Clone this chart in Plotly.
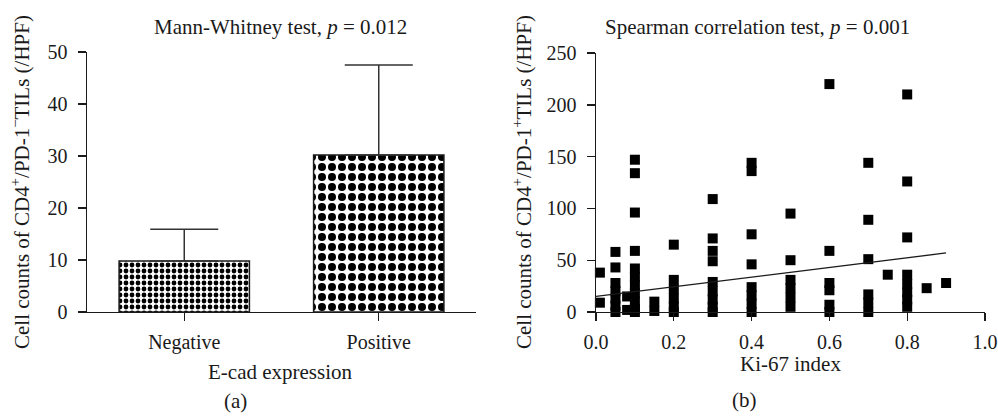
import plotly.graph_objects as go

# ---------------- data ----------------
categories = ["Negative", "Positive"]
bar_means = [9.8, 30.2]
bar_err_upper = [6.1, 17.3]

ki67_index = [
    0.01, 0.01,
    0.05, 0.05, 0.05, 0.05, 0.05, 0.05, 0.05,
    0.08, 0.08,
    0.10, 0.10, 0.10, 0.10, 0.10, 0.10, 0.10, 0.10, 0.10, 0.10, 0.10,
    0.15, 0.15,
    0.20, 0.20, 0.20, 0.20, 0.20, 0.20,
    0.30, 0.30, 0.30, 0.30, 0.30, 0.30, 0.30, 0.30, 0.30,
    0.40, 0.40, 0.40, 0.40, 0.40, 0.40, 0.40, 0.40,
    0.50, 0.50, 0.50, 0.50, 0.50, 0.50,
    0.60, 0.60, 0.60, 0.60, 0.60, 0.60,
    0.70, 0.70, 0.70, 0.70, 0.70, 0.70,
    0.75,
    0.80, 0.80, 0.80, 0.80, 0.80, 0.80, 0.80, 0.80,
    0.85,
    0.90,
]
cell_counts = [
    38, 9,
    58, 43, 28, 20, 13, 6, 0,
    15, 2,
    147, 134, 96, 59, 42, 34, 26, 18, 10, 3, 0,
    10, 1,
    65, 31, 22, 13, 5, 0,
    109, 71, 59, 49, 29, 20, 12, 5, 0,
    144, 136, 75, 46, 24, 16, 8, 0,
    95, 50, 31, 23, 14, 5,
    220, 59, 28, 21, 7, 0,
    144, 89, 51, 17, 9, 0,
    36,
    210, 126, 72, 36, 27, 19, 12, 5,
    23,
    28,
]
trend_x = [0.0, 0.9]
trend_y = [15, 57]

left_y_ticks = [0, 10, 20, 30, 40, 50]
right_y_ticks = [0, 50, 100, 150, 200, 250]
right_x_ticks = [0.0, 0.2, 0.4, 0.6, 0.8, 1.0]
right_x_ticklabels = ["0.0", "0.2", "0.4", "0.6", "0.8", "1.0"]

# ---------------- figure ----------------
W, H = 998, 419
FONT = "Liberation Serif"
FS = 20      # tick labels
FT = 21      # titles
INK = "#1a1a1a"

def px_x(x):
    return x / W

def px_y(y):
    return 1 - y / H

fig = go.Figure()

fig.add_trace(go.Bar(
    x=categories, y=bar_means, width=0.67,
    xaxis="x", yaxis="y",
    marker=dict(
        color="white",
        line=dict(color=INK, width=1.5),
        pattern=dict(shape=".", fgcolor="black", bgcolor="white",
                     size=[6, 10], solidity=0.5, fillmode="replace"),
    ),
    error_y=dict(type="data", symmetric=False, array=bar_err_upper,
                 arrayminus=[0, 0], color="#333333", thickness=1.5, width=34),
    showlegend=False,
))

fig.add_trace(go.Scatter(
    x=ki67_index, y=cell_counts, mode="markers",
    xaxis="x2", yaxis="y2",
    marker=dict(symbol="square", size=10, color="black", line=dict(width=0)),
    cliponaxis=False, showlegend=False,
))
fig.add_trace(go.Scatter(
    x=trend_x, y=trend_y, mode="lines",
    xaxis="x2", yaxis="y2",
    line=dict(color=INK, width=1.3),
    showlegend=False,
))

axis_common = dict(
    automargin=False,
    showgrid=False, zeroline=False, showline=True, linecolor=INK, linewidth=1.4,
    ticks="outside", ticklen=8, tickwidth=1.4, tickcolor=INK,
    tickfont=dict(family=FONT, size=FS, color=INK),
    ticklabeloverflow="allow",
)

fig.update_layout(
    template="none",
    width=W, height=H, autosize=False,
    margin=dict(l=0, r=0, t=0, b=0, pad=0),
    paper_bgcolor="white", plot_bgcolor="white",
    font=dict(family=FONT, size=FS, color=INK),
    showlegend=False,
    hovermode=False,
    xaxis=dict(domain=[px_x(87), px_x(476)], anchor="y", type="category",
               range=[-0.5, 1.5], ticklabelstandoff=4, **axis_common),
    yaxis=dict(domain=[px_y(312), px_y(52)], anchor="x", range=[0, 50],
               tickvals=left_y_ticks, ticklabelstandoff=6, **axis_common),
    xaxis2=dict(domain=[px_x(596), px_x(985)], anchor="y2", range=[0, 1.0],
                tickvals=right_x_ticks, ticktext=right_x_ticklabels,
                ticklabelstandoff=4, **axis_common),
    yaxis2=dict(domain=[px_y(312), px_y(53)], anchor="x2", range=[0, 250],
                tickvals=right_y_ticks, ticklabelstandoff=6, **axis_common),
)

def ann(text, x, y, angle=0, size=FT):
    fig.add_annotation(text=text, x=px_x(x), y=px_y(y), xref="paper", yref="paper",
                       showarrow=False, textangle=angle, xanchor="center", yanchor="middle",
                       font=dict(family=FONT, size=size, color=INK))

ann("Mann-Whitney test, <i>p</i> = 0.012", 280, 27)
ann("Spearman correlation test, <i>p</i> = 0.001", 757, 27)
ann("E-cad expression", 280, 372)
ann("Ki-67 index", 790, 364)
ann("(a)", 235, 401)
ann("(b)", 744, 400)
ann("Cell counts of CD4<sup>+</sup>/PD-1<sup>\u2212</sup>TILs (/HPF)", 20, 182, -90)
ann("Cell counts of CD4<sup>+</sup>/PD-1<sup>+</sup>TILs (/HPF)", 522, 182, -90)

# remove the default page margin so the figure fills the window exactly
page_css = ("document.body.style.margin='0';"
            "document.body.style.padding='0';"
            "document.documentElement.style.overflow='hidden';"
            "document.body.style.overflow='hidden';")

fig.write_html("out.html", post_script=page_css,
               config={"displayModeBar": False, "staticPlot": True})
